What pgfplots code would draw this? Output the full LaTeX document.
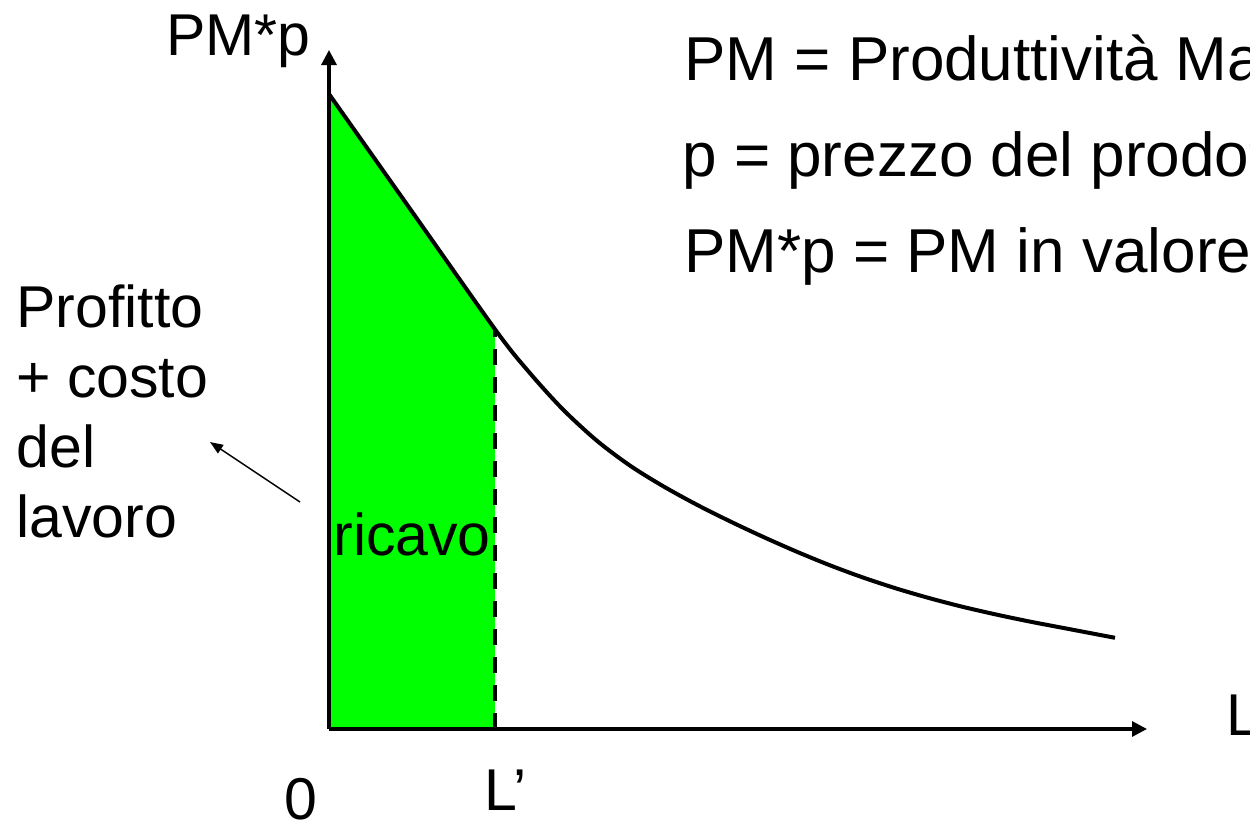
\documentclass[border=0pt]{standalone}
\usepackage{pgfplots}
\pgfplotsset{compat=1.18}
\usepackage{fontspec}
\setmainfont{Liberation Sans}
\usetikzlibrary{arrows.meta}
\definecolor{vgreen}{RGB}{0,255,0}
\tikzset{txt/.style={anchor=base west, inner sep=0pt, font=\fontsize{29.5}{35}\selectfont},
         rtxt/.style={anchor=base west, inner sep=0pt, font=\fontsize{31}{37}\selectfont}}
\begin{document}
\begin{tikzpicture}
\useasboundingbox (0,0) rectangle (625pt,410.5pt);
\clip (0,0) rectangle (625pt,410.5pt);
\begin{axis}[
  at={(164.5pt,46pt)}, anchor=south west,
  x=0.5pt, y=0.5pt,
  xmin=0, xmax=818, ymin=0, ymax=679,
  axis lines=left,
  axis line style={line width=1.6pt, -{Triangle[length=7.5pt,width=7.5pt]}},
  xtick=\empty, ytick=\empty,
  clip=false, axis on top,
]
\addplot[fill=vgreen, draw=none] coordinates {(0,0) (0,635) (166,397) (166,0)} -- cycle;
\addplot[line width=2.3pt, dash pattern=on 8pt off 6pt] coordinates {(166,0) (166,400)};
\addplot[line width=2pt, smooth, tension=0.5] coordinates {
 (0,635) (84,516) (168,397) (201,355.8) (234,319.5) (268,288.2) (301,263.4)
 (334,242.9) (368,224.2) (401,207.7) (434,192.2) (468,177.2) (501,163.7)
 (534,151.5) (568,140.3) (601,130.7) (634,122.1) (668,114.3) (701,107.4)
 (734,101.1) (786,91.2)};
\draw[line width=0.75pt, -{Triangle[length=6.5pt,width=5pt]}] (axis cs:-29,227) -- (axis cs:-119,287);
\node[txt] at (axis cs:-163,674) {PM*p};
\node[rtxt] at (axis cs:355,649) {PM = Produttività Marginale};
\node[rtxt] at (axis cs:353,553) {p = prezzo del prodotto};
\node[rtxt] at (axis cs:355,457) {PM*p = PM in valore};
\node[txt] at (axis cs:-313,402) {Profitto};
\node[txt] at (axis cs:-313,332) {+ costo};
\node[txt] at (axis cs:-313,262) {del};
\node[txt] at (axis cs:-313,192) {lavoro};
\node[txt] at (axis cs:4,174) {ricavo};
\node[txt] at (axis cs:-44.5,-90) {0};
\node[txt] at (axis cs:155,-81) {L’};
\node[txt] at (axis cs:897,-6) {L};
\end{axis}
\end{tikzpicture}
\end{document}
